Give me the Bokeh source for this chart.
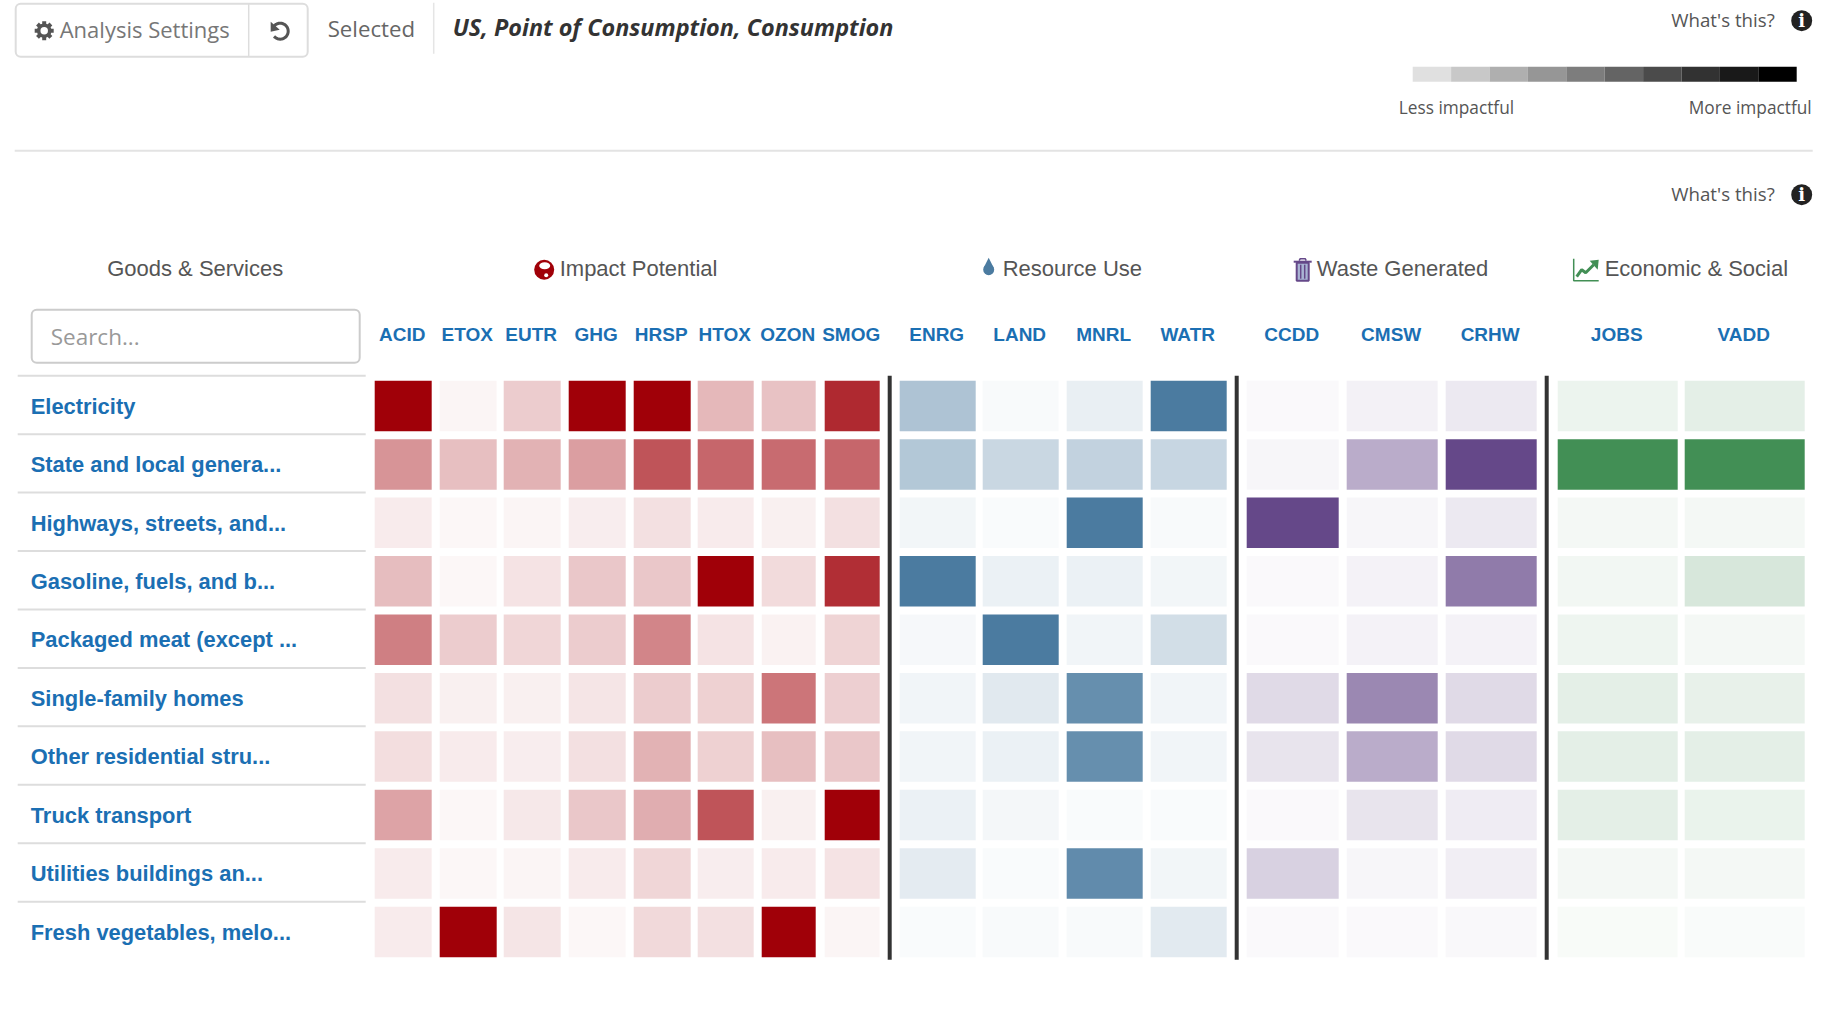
import numpy as np
from bokeh.plotting import figure
from bokeh.models import Range1d, ColumnDataSource
from bokeh.core.properties import value
from bokeh.embed import file_html
from bokeh.resources import INLINE

# ---- data ----
goods = ["Electricity", "State and local genera...", "Highways, streets, and...", "Gasoline, fuels, and b...",
         "Packaged meat (except ...", "Single-family homes", "Other residential stru...", "Truck transport",
         "Utilities buildings an...", "Fresh vegetables, melo..."]
impact_cols = ["ACID", "ETOX", "EUTR", "GHG", "HRSP", "HTOX", "OZON", "SMOG"]
resource_cols = ["ENRG", "LAND", "MNRL", "WATR"]
waste_cols = ["CCDD", "CMSW", "CRHW"]
econ_cols = ["JOBS", "VADD"]
# relative impact per row (0-1), read from cell shade
impact = [
    [1.00, .04, .20, 1.00, 1.00, .28, .24, .84],
    [.42, .25, .30, .38, .67, .60, .58, .60],
    [.08, .03, .04, .07, .12, .08, .06, .12],
    [.26, .03, .11, .22, .22, 1.00, .14, .82],
    [.50, .20, .16, .20, .48, .11, .05, .17],
    [.12, .06, .06, .10, .20, .18, .54, .19],
    [.13, .08, .07, .12, .30, .18, .25, .22],
    [.36, .03, .09, .22, .32, .67, .06, 1.00],
    [.08, .03, .04, .08, .16, .07, .08, .11],
    [.08, 1.00, .10, .03, .15, .12, 1.00, .04],
]
resource = [
    [.45, .04, .12, 1.00],
    [.42, .30, .34, .31],
    [.07, .03, 1.00, .04],
    [1.00, .11, .11, .07],
    [.05, 1.00, .08, .25],
    [.08, .17, .85, .08],
    [.08, .11, .85, .08],
    [.11, .06, .03, .03],
    [.15, .03, .88, .07],
    [.03, .04, .04, .16],
]
waste = [
    [.03, .08, .12],
    [.05, .45, 1.00],
    [1.00, .05, .12],
    [.03, .07, .72],
    [.03, .07, .07],
    [.20, .65, .20],
    [.15, .45, .20],
    [.03, .15, .10],
    [.25, .05, .09],
    [.03, .03, .04],
]
econ = [
    [.10, .14],
    [1.00, 1.00],
    [.06, .06],
    [.07, .21],
    [.09, .06],
    [.14, .12],
    [.14, .14],
    [.14, .11],
    [.06, .06],
    [.04, .03],
]
legend_grays = ["#e0e0e0", "#c8c8c8", "#afafaf", "#969696", "#7d7d7d", "#646464", "#4b4b4b", "#323232", "#191919", "#000000"]

# ---- layout (page pixels) ----
W, H = 1816, 1020
OFF = 0.8
col_edges = {
    "impact": [(375, 432), (440, 497), (504, 561), (569, 626), (634, 691), (698, 754), (762, 816), (825, 880)],
    "resource": [(900, 976), (983, 1059), (1067, 1143), (1151, 1227)],
    "waste": [(1247, 1339), (1347, 1438), (1446, 1537)],
    "econ": [(1558, 1678), (1685, 1805)],
}
ROW0, ROWSTEP, ROWH = 381, 58.44, 50.5
BLUE = "#1b6fb3"; SANS = "Liberation Sans"; OPEN = "Open Sans"; DARK = "#555555"

p = figure(width=W, height=H, x_range=Range1d(OFF, W + OFF), y_range=Range1d(H + OFF, OFF),
           toolbar_location=None, output_backend="svg", min_border=0, outline_line_color=None)
p.axis.visible = False
p.grid.visible = False


def txt(x, y, s, size, color=DARK, font=SANS, style="normal", align="left"):
    p.text([x], [y], text=[s], text_font=value(font), text_font_size=f"{size}px", text_font_style=style,
           text_color=color, text_align=align, text_baseline="middle")


# heat cells
groups = [("impact", impact_cols, impact, "#a00008"), ("resource", resource_cols, resource, "#4b7ba0"),
          ("waste", waste_cols, waste, "#654889"), ("econ", econ_cols, econ, "#428f55")]
for key, cols, matrix, color in groups:
    edges = col_edges[key]
    d = dict(l=[], r=[], t=[], b=[], a=[])
    for i, row in enumerate(matrix):
        for j, v in enumerate(row):
            d["l"].append(edges[j][0]); d["r"].append(edges[j][1])
            d["t"].append(ROW0 + i * ROWSTEP); d["b"].append(ROW0 + i * ROWSTEP + ROWH)
            d["a"].append(v)
    p.quad(left="l", right="r", top="t", bottom="b", fill_alpha="a", fill_color=color, line_color=None,
           source=ColumnDataSource(d))
    for j, c in enumerate(cols):
        txt((edges[j][0] + edges[j][1]) / 2 - 1, 334.5, c, 19, BLUE, SANS, "bold", "center")

# row labels and rules
for i, g in enumerate(goods):
    p.line([18, 366], [ROW0 - 5 + i * ROWSTEP] * 2, line_color="#dddddd", line_width=2)
    txt(31, ROW0 + 25.5 + i * ROWSTEP, g, 21.9, BLUE, SANS, "bold")

# group dividers
for x in (890, 1237, 1547):
    p.line([x, x], [376, 960], line_color="#333333", line_width=4)

# toolbar
p.quad(left=[16], right=[308], top=[4], bottom=[57], fill_color="#ffffff", line_color="#dddddd", line_width=2,
       border_radius=5)
p.line([249, 249], [4, 57], line_color="#dddddd", line_width=1.5)
# gear icon
gx, gy = 44.5, 31
th = np.arange(8) * np.pi / 4
p.multi_line([[gx + 5 * np.cos(t), gx + 9.5 * np.cos(t)] for t in th],
             [[gy + 5 * np.sin(t), gy + 9.5 * np.sin(t)] for t in th], line_color="#555555", line_width=4)
p.circle([gx], [gy], radius=5.5, fill_color="#ffffff", line_color="#555555", line_width=3.5)
txt(60, 29.5, "Analysis Settings", 22, "#777777", OPEN)
# undo icon
ua = np.radians(np.linspace(-150, 140, 30))
p.line(280.5 + 8 * np.cos(ua), 31.5 + 8 * np.sin(ua), line_color="#555555", line_width=3)
p.patch([271, 271, 280], [22, 32, 30], fill_color="#555555", line_color=None)
txt(328, 28.5, "Selected", 22.2, "#666666", OPEN)
p.line([434, 434], [3, 54], line_color="#e5e5e5", line_width=1.5)
txt(453, 27.5, "US, Point of Consumption, Consumption", 23.4, "#333333", OPEN, "bold italic")

# legend
for k, c in enumerate(legend_grays):
    p.quad(left=[1413 + k * 38.4], right=[1413 + (k + 1) * 38.4], top=[67], bottom=[82], fill_color=c, line_color=None)
txt(1399, 108, "Less impactful", 17.3, "#555555", OPEN)
txt(1812, 108, "More impactful", 17.3, "#555555", OPEN, "normal", "right")
p.line([15, 1813], [151, 151], line_color="#e3e3e3", line_width=2)
for y in (20, 194):
    txt(1775, y, "What's this?", 18.7, "#555555", OPEN, "normal", "right")
    p.circle([1802], [y + 1], radius=10.5, fill_color="#222222", line_color=None)
    txt(1802, y + 1, "i", 18, "#ffffff", "DejaVu Serif", "bold", "center")

# section headers
txt(195.5, 269, "Goods & Services", 22, "#555555", SANS, "normal", "center")
txt(560, 269, "Impact Potential", 22, "#555555")
txt(1003, 269, "Resource Use", 22, "#555555")
txt(1317, 269, "Waste Generated", 22, "#555555")
txt(1605, 269, "Economic & Social", 22, "#555555")
# globe icon
p.circle([544.5], [270], radius=10, fill_color="#a00008", line_color=None)
p.ellipse([545, 546.5], [266, 275.5], width=[11, 4], height=[7, 4], fill_color="#ffffff", line_color=None)
# drop icon
p.circle([989], [270], radius=5.5, fill_color="#4b7ba0", line_color=None)
p.patch([984, 989, 994], [268, 258, 268], fill_color="#4b7ba0", line_color=None)
# trash icon
p.quad(left=[1297], right=[1309], top=[263], bottom=[281], fill_color="#a9b4d4", line_color="#654889", line_width=2)
p.line([1294, 1312], [262, 262], line_color="#654889", line_width=2)
p.line([1299.5, 1300.5, 1305.5, 1306.5], [261, 259, 259, 261], line_color="#654889", line_width=1.5)
p.multi_line([[1301, 1301], [1305, 1305]], [[265, 279], [265, 279]], line_color="#654889", line_width=1.5)
# chart icon
p.line([1574, 1574, 1599], [259, 281, 281], line_color="#428f55", line_width=1.5)
p.line([1577, 1582, 1586, 1594], [277, 270, 273, 265], line_color="#428f55", line_width=3)
p.patch([1590, 1599, 1598], [261, 260, 270], fill_color="#428f55", line_color=None)

# search box
p.quad(left=[32], right=[360], top=[310], bottom=[363], fill_color="#ffffff", line_color="#cccccc", line_width=2,
       border_radius=5)
txt(51, 337, "Search...", 22.5, "#999999", OPEN)

html = file_html(p, INLINE)
open("out.html", "w").write(html)
